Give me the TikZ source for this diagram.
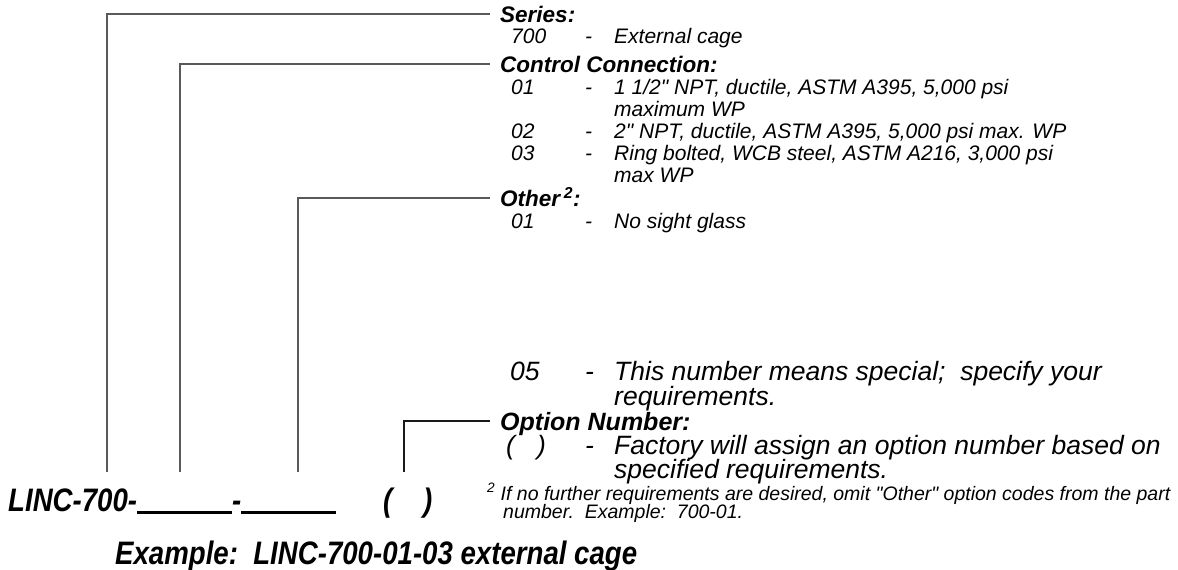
\documentclass[tikz,border=0pt]{standalone}
\usepackage{fontspec}
\newfontfamily\ar{Liberation Sans}
\newfontfamily\nar[FakeStretch=0.85]{Liberation Sans}
\begin{document}
\begin{tikzpicture}[x=1pt,y=-1pt,
  conn/.style={draw=black!65,line width=1.2pt},
  connd/.style={draw=black!90,line width=1.2pt},
  hdr/.style={anchor=base west,inner sep=0pt,font=\ar\fontsize{22.5}{26}\selectfont\bfseries\itshape},
  hdrb/.style={anchor=base west,inner sep=0pt,font=\ar\fontsize{25}{28}\selectfont\bfseries\itshape},
  txt/.style={anchor=base west,inner sep=0pt,font=\ar\fontsize{21}{24}\selectfont\itshape},
  txtb/.style={anchor=base west,inner sep=0pt,font=\ar\fontsize{26.5}{30}\selectfont\itshape},
  foot/.style={anchor=base west,inner sep=0pt,font=\ar\fontsize{19.5}{22}\selectfont\itshape},
  big/.style={anchor=base west,inner sep=0pt,font=\nar\fontsize{32.5}{36}\selectfont\bfseries\itshape}]
\useasboundingbox (0,0) rectangle (1178,570);
% headers (baselines)
\node[hdr] (series) at (500,22) {Series:};
\node[hdr] (control) at (500,72) {Control Connection:};
\node[hdr] (other) at (500,206) {Other\,\textsuperscript{2}:};
\node[hdrb] (option) at (500,430) {Option Number:};
% top block entries
\node[txt] (c700) at (511,43.5) {700};
\node[txt] (d700) at (585,43.5) {-};
\node[txt] (t700) at (614,43.5) {External cage};
\node[txt] (c01) at (511,94) {01};
\node[txt] (d01) at (585,94) {-};
\node[txt] (t01) at (614,94) {1 1/2" NPT, ductile, ASTM A395, 5,000 psi};
\node[txt] (t01b) at (614,116) {maximum WP};
\node[txt] (c02) at (511,138.5) {02};
\node[txt] (d02) at (585,138.5) {-};
\node[txt] (t02) at (614,138.5) {2" NPT, ductile, ASTM A395, 5,000 psi max. WP};
\node[txt] (c03) at (511,160.5) {03};
\node[txt] (d03) at (585,160.5) {-};
\node[txt] (t03) at (614,160.5) {Ring bolted, WCB steel, ASTM A216, 3,000 psi};
\node[txt] (t03b) at (614,182.5) {max WP};
\node[txt] (o01) at (511,228) {01};
\node[txt] (od01) at (585,228) {-};
\node[txt] (ot01) at (614,228) {No sight glass};
% bottom block entries
\node[txtb] (o05) at (510,380.5) {05};
\node[txtb] (od05) at (585,380.5) {-};
\node[txtb] (ot05) at (614,380.5) {This number means special;\ \ specify your};
\node[txtb] (ot05b) at (614,405) {requirements.};
\node[txtb] (pc) at (506,454.5) {(\ \ \ )};
\node[txtb] (pd) at (585,454.5) {-};
\node[txtb] (pt) at (614,454.5) {Factory will assign an option number based on};
\node[txtb] (ptb) at (614,478.5) {specified requirements.};
\node[foot] (fn) at (487,500) {\textsuperscript{2} If no further requirements are desired, omit "Other" option codes from the part};
\node[foot] (fnb) at (503,518) {number.\ \ Example:\ \ 700-01.};
% part number
\node[big] (linc) at (8,511) {LINC-700-\rule[-3pt]{95pt}{3pt}-\rule[-3pt]{95pt}{3pt}};
\node[big] (paren) at (383,511) {(\ \ \ \ )};
\node[big] (example) at (115,564) {Example:\ \ LINC-700-01-03 external cage};
% connectors
\coordinate (b1) at (107,472);
\coordinate (b2) at (180,472);
\coordinate (b3) at (298,472);
\coordinate (b4) at (404,472);
\draw[conn] (b1) |- ([shift={(-10pt,8pt)}]series.base west);
\draw[conn] (b2) |- ([shift={(-10pt,8pt)}]control.base west);
\draw[conn] (b3) |- ([shift={(-10pt,8pt)}]other.base west);
\draw[connd] (b4) |- ([shift={(-10pt,9pt)}]option.base west);
\end{tikzpicture}
\end{document}
